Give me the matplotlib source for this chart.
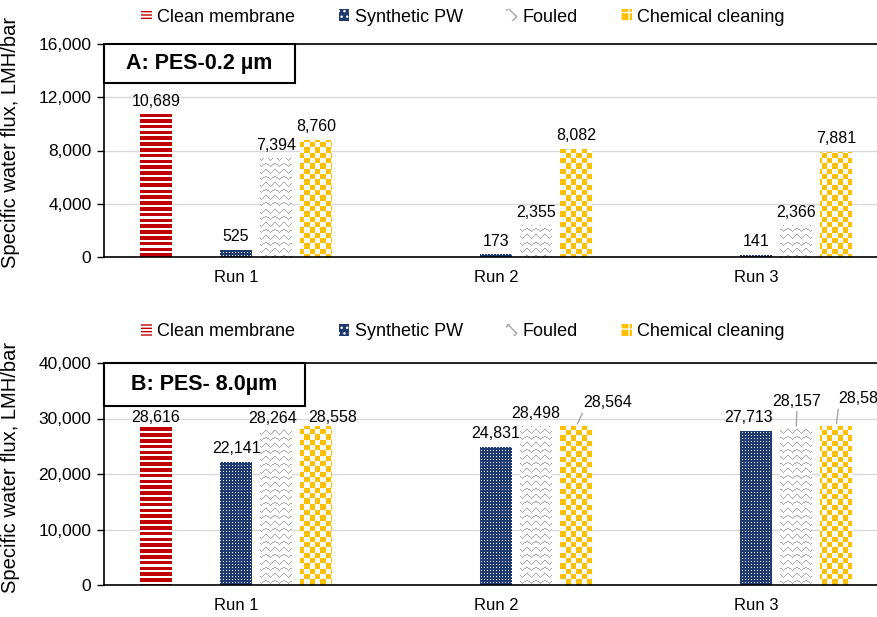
import numpy as np
import matplotlib
matplotlib.use("Agg")
import matplotlib.pyplot as plt
from matplotlib.patches import Patch, Rectangle

plt.rcParams['font.family'] = ['Liberation Sans', 'DejaVu Sans']

runs = ["Run 1", "Run 2", "Run 3"]
series = ["Clean membrane", "Synthetic PW", "Fouled", "Chemical cleaning"]

# Panel A: PES-0.2 um  (None = no bar)
a_clean = [10689, None, None]
a_synth = [525, 173, 141]
a_fouled = [7394, 2355, 2366]
a_chem = [8760, 8082, 7881]

# Panel B: PES-8.0 um
b_clean = [28616, None, None]
b_synth = [22141, 24831, 27713]
b_fouled = [28264, 28498, 28157]
b_chem = [28558, 28564, 28580]

W, H = 878, 617
DPI = 100
fig = plt.figure(figsize=(W / DPI, H / DPI), dpi=DPI)

RED = '#C00000'
NAVY = '#1F3A6E'
GREY = '#A6A6A6'
GOLD = '#FFC000'

offsets = [-0.3077, 0.0, 0.1538, 0.3077]
bw = 0.123


def pattern(kind, w, h, xp0, yp0):
    xs = xp0 + np.arange(w)
    ys = yp0 + np.arange(h)[::-1]
    X, Y = np.meshgrid(xs, ys)
    img = np.ones((h, w, 3))
    def rgb(c):
        return np.array(matplotlib.colors.to_rgb(c))
    if kind == 0:
        m = (Y % 5.8) < 3.6
        img[m] = rgb(RED)
    elif kind == 1:
        img[:] = rgb(NAVY)
        m = ((np.floor(X) % 3) == 1) & ((np.floor(Y) % 3) == 1)
        img[m] = rgb('#E8ECF5')
    elif kind == 2:
        P = 9.0
        A = 3.5
        S = 6.5
        t = (X % P) / P
        tri = A * (1 - np.abs(2 * t - 1))
        f = (Y - tri) % S
        m = f < 1.0
        img[m] = rgb(GREY)
    else:
        c = 32 / 6.0
        m = ((np.floor(X / c) + np.floor(Y / c)) % 2) == 0
        img[m] = rgb(GOLD)
    return img


def panel(rect, data, ymax, step, label, box_w, box_h, lbl_offsets, ylab_y):
    ax = fig.add_axes(rect)
    ax.set_xlim(-0.508, 2.492)
    ax.set_ylim(0, ymax)
    ax.set_yticks(np.arange(0, ymax + 1, step))
    ax.set_yticklabels([f"{int(v):,}" for v in np.arange(0, ymax + 1, step)], fontsize=12.5)
    ax.set_xticks(range(len(runs)))
    ax.set_xticklabels(runs, fontsize=12)
    ax.tick_params(axis='x', length=0, pad=9)
    ax.tick_params(axis='y', length=5, width=1, pad=4, direction='out')
    ax.grid(axis='y', color='#D9D9D9', lw=1.0)
    ax.set_axisbelow(True)
    for s in ['left', 'bottom', 'top']:
        ax.spines[s].set_color('black')
        ax.spines[s].set_linewidth(1.2)
    ax.spines['right'].set_visible(False)
    ax.set_ylabel("Specific water flux, LMH/bar", fontsize=14.5)
    ax.yaxis.set_label_coords(-0.108, ylab_y)

    for k, vals in enumerate(data):
        for i, v in enumerate(vals):
            if v is None:
                continue
            x = i + offsets[k]
            ax.bar(x, v, width=bw, color='none', lw=0, zorder=2)
            x0p, y0p = ax.transData.transform((x - bw / 2, 0))
            x1p, y1p = ax.transData.transform((x + bw / 2, v))
            w = max(int(round(x1p - x0p)), 1)
            h = max(int(round(y1p - y0p)), 1)
            img = pattern(k, w, h, int(round(x0p)), int(round(y0p)))
            ax.imshow(img, extent=(x - bw / 2, x + bw / 2, 0, v), aspect='auto',
                      interpolation='nearest', origin='upper', zorder=2)
            dx, dy, leader = lbl_offsets.get((k, i), (0, 6, False))
            if leader:
                ax.annotate(f"{v:,}", xy=(x, v), xytext=(dx, dy), textcoords='offset pixels',
                            ha='center', va='bottom', fontsize=11.5, zorder=5,
                            arrowprops=dict(arrowstyle='-', color='#A6A6A6', lw=1,
                                            shrinkA=0, shrinkB=2,
                                            relpos=(0.0, 0.0) if dx > 5 else (0.5, 0.0)))
            else:
                ax.annotate(f"{v:,}", xy=(x, v), xytext=(dx, dy), textcoords='offset pixels',
                            ha='center', va='bottom', fontsize=11.5, zorder=5)
    ax.set_xlim(-0.508, 2.492)
    ax.set_ylim(0, ymax)
    ax.add_patch(Rectangle((0, 1 - box_h), box_w, box_h, transform=ax.transAxes,
                           facecolor='white', edgecolor='black', lw=1.5, zorder=6,
                           clip_on=False))
    ax.text(box_w / 2, 1 - box_h / 2, label, transform=ax.transAxes, ha='center',
            va='center', fontsize=15.5, fontweight='bold', zorder=7)
    return ax


axA = panel([104 / W, (617 - 257) / H, 780 / W, 213 / H],
            [a_clean, a_synth, a_fouled, a_chem], 16000, 4000, "A: PES-0.2 µm",
            191 / 780, 39 / 213, {}, 0.54)

lblB = {
    (0, 0): (0, 1, False),
    (1, 0): (0, 6, False),
    (2, 0): (-3, 2, False),
    (3, 0): (17, 2, False),
    (1, 1): (0, 6, False),
    (2, 1): (0, 6, False),
    (3, 1): (32, 16, True),
    (1, 2): (-8, 6, False),
    (2, 2): (1, 20, True),
    (3, 2): (27, 20, True),
}
axB = panel([104 / W, (617 - 585) / H, 780 / W, 222 / H],
            [b_clean, b_synth, b_fouled, b_chem], 40000, 10000, "B: PES- 8.0µm",
            201 / 780, 43 / 222, lblB, 0.53)

handles = [
    Patch(facecolor='white', edgecolor=RED, hatch='-----', lw=0),
    Patch(facecolor=NAVY, edgecolor='white', hatch='...', lw=0),
    Patch(facecolor='white', edgecolor=GREY, hatch='xx', lw=0),
    Patch(facecolor=GOLD, edgecolor='white', hatch='++', lw=0),
]
for yc in [1 - 17 / H, 1 - 332 / H]:
    fig.legend(handles, series, loc='center', bbox_to_anchor=(463 / W, yc), ncol=4,
               frameon=False, fontsize=13, handlelength=0.6, handleheight=0.6,
               handletextpad=0.3, columnspacing=2.4, borderaxespad=0, borderpad=0)

fig.savefig("out.png", dpi=DPI)
